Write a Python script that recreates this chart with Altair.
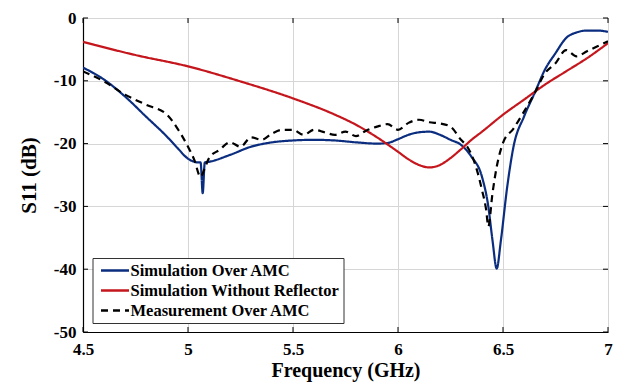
import altair as alt
import pandas as pd

# ---- data ----
freq_amc = [4.5, 4.6, 4.7, 4.8, 4.9, 4.95, 5.0, 5.05, 5.06, 5.07, 5.08, 5.1, 5.2, 5.3, 5.4,
            5.5, 5.6, 5.7, 5.8, 5.9, 5.95, 6.0, 6.05, 6.1, 6.15, 6.2, 6.25, 6.3, 6.35,
            6.4, 6.43, 6.45, 6.47, 6.49, 6.52, 6.55, 6.6, 6.65, 6.7, 6.75, 6.8, 6.85,
            6.9, 6.95, 7.0]
s11_amc = [-7.9, -9.8, -12.5, -15.7, -18.9, -20.7, -22.4, -23.0, -23.0, -27.9, -23.0, -22.9,
           -21.8, -20.5, -19.8, -19.5, -19.4, -19.5, -19.8, -20.0, -19.9, -19.3, -18.6,
           -18.2, -18.1, -18.6, -19.4, -20.2, -22.1, -25.3, -30.0, -35.4, -39.9, -35.4,
           -26.9, -20.5, -15.7, -12.0, -8.2, -5.6, -3.2, -2.3, -2.0, -2.0, -2.2]

freq_noref = [4.5, 4.75, 5.0, 5.25, 5.5, 5.7, 5.8, 5.9, 6.0, 6.05, 6.1, 6.15, 6.2, 6.25,
              6.3, 6.35, 6.4, 6.5, 6.6, 6.7, 6.8, 6.9, 7.0]
s11_noref = [-3.8, -5.9, -7.7, -10.1, -12.8, -15.4, -17.0, -19.0, -21.3, -22.5, -23.4,
             -23.8, -23.4, -22.3, -20.9, -19.4, -18.1, -15.4, -13.0, -10.6, -8.5, -6.4, -4.0]

freq_meas = [4.5, 4.6, 4.7, 4.8, 4.9, 4.95, 5.0, 5.03, 5.06, 5.08, 5.1, 5.15, 5.2, 5.25,
             5.3, 5.35, 5.4, 5.45, 5.5, 5.55, 5.6, 5.65, 5.7, 5.75, 5.8, 5.85, 5.9, 5.95,
             6.0, 6.05, 6.1, 6.15, 6.2, 6.25, 6.3, 6.33, 6.36, 6.38, 6.4, 6.42, 6.43,
             6.45, 6.47, 6.5, 6.55, 6.6, 6.65, 6.7, 6.75, 6.8, 6.85, 6.9, 6.95, 7.0]
s11_meas = [-8.5, -10.1, -12.2, -13.8, -15.4, -17.6, -20.5, -22.6, -25.3, -23.9, -22.3,
            -21.0, -19.8, -20.5, -19.0, -19.4, -18.4, -17.8, -17.8, -18.6, -17.8, -18.2,
            -18.6, -18.1, -18.8, -17.9, -17.3, -16.9, -17.8, -16.7, -16.2, -16.6, -16.8,
            -17.3, -19.4, -20.5, -22.6, -24.7, -27.4, -30.6, -33.2, -27.9, -23.7, -19.9,
            -17.6, -14.9, -12.0, -8.8, -7.2, -5.1, -6.1, -5.3, -4.5, -3.7]

series_names = ["Simulation Over AMC", "Simulation Without Reflector", "Measurement Over AMC"]
series_colors = ["#0b2d7f", "#c4161c", "#000000"]
series_dashes = [[1, 0], [1, 0], [7, 5]]

x_ticks = [4.5, 5.0, 5.5, 6.0, 6.5, 7.0]
y_ticks = [0, -10, -20, -30, -40, -50]

# ---- build table ----
rows = []
for name, fx, fy in zip(series_names,
                        [freq_amc, freq_noref, freq_meas],
                        [s11_amc, s11_noref, s11_meas]):
    for i, (a, b) in enumerate(zip(fx, fy)):
        rows.append({"series": name, "freq": a, "s11": b, "order": i})
df = pd.DataFrame(rows)

W, H = 525, 314
FONT = "Times New Roman, Liberation Serif, serif"

xscale = alt.Scale(domain=[4.5, 7], nice=False, zero=False)
yscale = alt.Scale(domain=[-50, 0], nice=False, zero=False)

common_axis = dict(labelFont=FONT, labelFontSize=17, labelFontWeight="bold", labelColor="#000",
                   titleFont=FONT, titleFontWeight="bold", titleColor="#000",
                   grid=True, gridColor="#d6d6d6", gridWidth=1,
                   domainColor="#000", domainWidth=1.2, tickSize=0,
                   labelFlush=False, labelOverlap=False,
                   labelExpr="'' + datum.value")
x_axis = alt.Axis(values=x_ticks, title="Frequency (GHz)", titleFontSize=20,
                  labelPadding=9, titlePadding=3, **common_axis)
y_axis = alt.Axis(values=y_ticks, title="S11 (dB)", titleFontSize=21,
                  labelPadding=7, titlePadding=14, **common_axis)

legend = alt.Legend(title=None, orient="none", legendX=9.5, legendY=240,
                    symbolType="M-3,0H1", symbolSize=196, symbolStrokeWidth=2.5,
                    symbolOffset=17,
                    labelFont=FONT, labelFontSize=16.5, labelFontWeight="bold",
                    labelColor="#000", labelOffset=0, padding=4, rowPadding=3,
                    strokeColor="#333", fillColor="#ffffff", labelLimit=400)

lines = alt.Chart(df).mark_line(strokeWidth=2.2, clip=True, interpolate="monotone").encode(
    x=alt.X("freq:Q", scale=xscale, axis=x_axis),
    y=alt.Y("s11:Q", scale=yscale, axis=y_axis),
    color=alt.Color("series:N", scale=alt.Scale(domain=series_names, range=series_colors),
                    legend=legend),
    strokeDash=alt.StrokeDash("series:N",
                              scale=alt.Scale(domain=series_names, range=series_dashes),
                              legend=legend),
    order="order:Q",
)

xt = pd.DataFrame({"v": x_ticks})
yt = pd.DataFrame({"v": y_ticks})
tick_len = 5
bottom_ticks = alt.Chart(xt).mark_rule(color="#000", strokeWidth=1).encode(
    x=alt.X("v:Q", scale=xscale, axis=x_axis), y=alt.value(H), y2=alt.value(H - tick_len))
top_ticks = alt.Chart(xt).mark_rule(color="#000", strokeWidth=1).encode(
    x=alt.X("v:Q", scale=xscale, axis=x_axis), y=alt.value(0), y2=alt.value(tick_len))
left_ticks = alt.Chart(yt).mark_rule(color="#000", strokeWidth=1).encode(
    y=alt.Y("v:Q", scale=yscale, axis=y_axis), x=alt.value(0), x2=alt.value(tick_len))
right_ticks = alt.Chart(yt).mark_rule(color="#000", strokeWidth=1).encode(
    y=alt.Y("v:Q", scale=yscale, axis=y_axis), x=alt.value(W), x2=alt.value(W - tick_len))

chart = alt.layer(lines, bottom_ticks, top_ticks, left_ticks, right_ticks).properties(
    width=W, height=H,
    autosize=alt.AutoSizeParams(type="none"),
    padding={"left": 83, "top": 18, "right": 13, "bottom": 50},
).configure_view(
    stroke="#000", strokeWidth=1.2
).configure(background="white")

chart.save("out.html", embed_options={"renderer": "svg", "actions": False})
